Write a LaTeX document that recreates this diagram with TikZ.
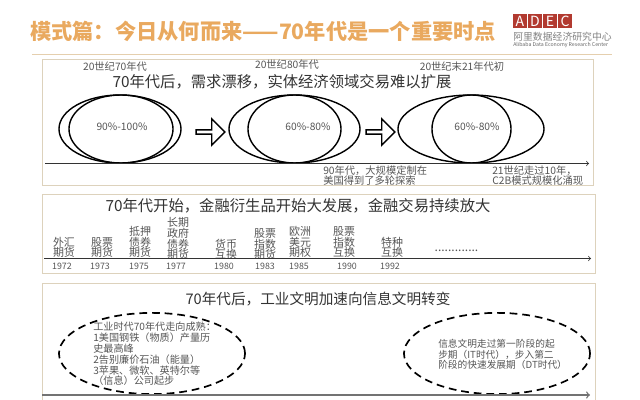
\documentclass[tikz,border=0pt]{standalone}
\usepackage{xcolor}
\usepackage{fontspec}
\setmainfont{Noto Sans CJK SC}
\usepackage{tikz}
\usetikzlibrary{arrows}
\usetikzlibrary{shapes}
\usetikzlibrary{shapes.geometric}
\lineskiplimit=-20pt
\normallineskiplimit=-20pt
\definecolor{titleorange}{HTML}{E9A95F}
\definecolor{paneltan}{HTML}{DDD2BC}
\definecolor{ruletan}{HTML}{E5CFAE}
\definecolor{logored}{HTML}{B23A30}
\definecolor{softgray}{HTML}{555555}
\tikzset{
  titletext/.style={inner sep=0pt, text=titleorange, font=\fontsize{15.1}{16}\selectfont\bfseries},
  headtext/.style={inner sep=0pt, text=black!80, font=\fontsize{10.9}{12}\selectfont},
  smalltext/.style={inner sep=0pt, text=softgray, align=left, font=\fontsize{7.3}{6.8}\selectfont},
  columntext/.style={inner sep=0pt, anchor=south, text=softgray, align=center, font=\fontsize{7.8}{7.6}\selectfont},
  yeartext/.style={inner sep=0pt, text=softgray, font=\fontsize{6.3}{7}\selectfont},
  logobox/.style={rectangle, fill=logored, text=white, inner sep=0pt, minimum width=0.34cm, minimum height=0.35cm, font=\fontsize{10}{11}\selectfont},
  circlenode/.style={ellipse, draw=black, line width=1pt, inner sep=0pt},
  dashnode/.style={ellipse, draw=black, line width=1.2pt, dash pattern=on 5.5pt off 3.5pt, inner sep=0pt, minimum width=4.65cm, minimum height=2.03cm},
  hollowarrow/.style={single arrow, draw=black, line width=1pt, fill=white, inner sep=0pt, minimum width=0.66cm, minimum height=0.72cm, single arrow head extend=0.09cm, single arrow tip angle=90},
  panel/.style={draw=paneltan, line width=0.7pt},
  axis/.style={->, draw=black!80, line width=0.5pt}
}
\begin{document}
\begin{tikzpicture}[x=0.025cm, y=-0.025cm]
\useasboundingbox (0, 0) rectangle (640, 400);
\node [titletext, anchor=west] (title) at (30, 31) {模式篇：今日从何而来——70年代是一个重要时点};
\coordinate (ruleL) at (32, 54);
\coordinate (ruleR) at (612, 54);
\draw [draw = ruletan, line width=0.7pt] (ruleL) to (ruleR);
\node [logobox] (logoA) at (520, 21) {A};
\node [logobox] (logoD) at (535, 21) {D};
\node [logobox] (logoE) at (550, 21) {E};
\node [logobox] (logoC) at (565, 21) {C};
\node [inner sep=0pt, anchor=west, text=black!50, font=\fontsize{7}{8}\selectfont] (logoCN) at (513, 37) {阿里数据经济研究中心};
\node [inner sep=0pt, anchor=west, text=black!60, font=\fontsize{3.7}{4}\selectfont] (logoEN) at (513, 45) {Alibaba Data Economy Research Center};

\draw [panel] (42, 59) rectangle (593, 185);
\draw [panel] (42, 194) rectangle (595, 273);
\draw [panel] (42, 283) rectangle (595, 410);

\node [smalltext] (era1) at (115, 67) {20世纪70年代};
\node [smalltext] (era2) at (287, 65) {20世纪80年代};
\node [smalltext] (era3) at (462, 67) {20世纪末21年代初};
\node [headtext] (headA) at (282, 82) {70年代后，需求漂移，实体经济领域交易难以扩展};
\node [circlenode, minimum width=3.05cm, minimum height=1.7cm] (outerA) at (120, 129) {};
\node [circlenode, minimum width=2.6cm, minimum height=1.7cm] (innerA) at (121, 129) {};
\node [circlenode, minimum width=3.275cm, minimum height=1.7cm] (outerB) at (294.5, 129) {};
\node [circlenode, minimum width=2.325cm, minimum height=1.7cm] (innerB) at (294.5, 129) {};
\node [circlenode, minimum width=3.65cm, minimum height=1.7cm] (outerC) at (471, 129) {};
\node [circlenode, minimum width=1.975cm, minimum height=1.7cm] (innerC) at (471.5, 129) {};
\node [smalltext] (shareA) at (122, 127) {90\%-100\%};
\node [smalltext] (shareB) at (308, 127) {60\%-80\%};
\node [smalltext] (shareC) at (477, 127) {60\%-80\%};
\node [hollowarrow] (stepA) at (209.5, 132) {};
\node [hollowarrow] (stepB) at (379.5, 132) {};
\coordinate (axisAL) at (45, 163.5);
\coordinate (axisAR) at (589, 163.5);
\draw [axis] (axisAL) to (axisAR);
\node [smalltext, anchor=west] (noteA) at (323, 175.5) {90年代，大规模定制在\\美国得到了多轮探索};
\node [smalltext, anchor=west] (noteB) at (492, 175.5) {21世纪走过10年，\\C2B模式规模化涌现};

\node [headtext] (headB) at (298, 206) {70年代开始，金融衍生品开始大发展，金融交易持续放大};
\node [columntext] (fx) at (64, 258) {外汇\\期货};
\node [columntext] (stock) at (102, 258) {股票\\期货};
\node [columntext] (mortgage) at (140, 258) {抵押\\债券\\期货};
\node [columntext] (treasury) at (178, 260) {长期\\政府\\债券\\期货};
\node [columntext] (swap) at (226, 260) {货币\\互换};
\node [columntext] (index) at (265, 260) {股票\\指数\\期货};
\node [columntext] (option) at (300, 258) {欧洲\\美元\\期权};
\node [columntext] (indexswap) at (344, 258) {股票\\指数\\互换};
\node [columntext] (special) at (392, 258) {特种\\互换};
\node [inner sep=0pt, anchor=base, text=softgray, font=\fontsize{8.6}{9}\selectfont] (more) at (456.5, 252) {.............};
\coordinate (axisBL) at (44, 258.5);
\coordinate (axisBR) at (591, 258.5);
\draw [axis] (axisBL) to (axisBR);
\node [yeartext] (y1972) at (62, 266) {1972};
\node [yeartext] (y1973) at (100, 266) {1973};
\node [yeartext] (y1975) at (139, 266) {1975};
\node [yeartext] (y1977) at (176, 266) {1977};
\node [yeartext] (y1980) at (224, 266) {1980};
\node [yeartext] (y1983) at (265, 266) {1983};
\node [yeartext] (y1985) at (299, 266) {1985};
\node [yeartext] (y1990) at (347, 266) {1990};
\node [yeartext] (y1992) at (390, 266) {1992};

\node [headtext, font=\fontsize{10.4}{12}\selectfont] (headC) at (318, 299) {70年代后，工业文明加速向信息文明转变};
\node [dashnode] (oldage) at (152, 353.5) {};
\node [dashnode] (newage) at (497, 353.5) {};
\node [smalltext, anchor=west, font=\fontsize{7.2}{7.7}\selectfont] (oldtext) at (93, 354) {工业时代70年代走向成熟：\\1美国钢铁（物质）产量历\\史最高峰\\2告别廉价石油（能量）\\3苹果、微软、英特尔等\\（信息）公司起步};
\node [smalltext, anchor=west, font=\fontsize{6.9}{7.5}\selectfont] (newtext) at (438, 354.5) {信息文明走过第一阶段的起\\步期（IT时代），步入第二\\阶段的快速发展期（DT时代）};
\coordinate (axisCL) at (42, 395);
\coordinate (axisCR) at (590, 395);
\draw [axis, draw=black!55, line width=0.9pt] (axisCL) to (axisCR);
\end{tikzpicture}
\end{document}
